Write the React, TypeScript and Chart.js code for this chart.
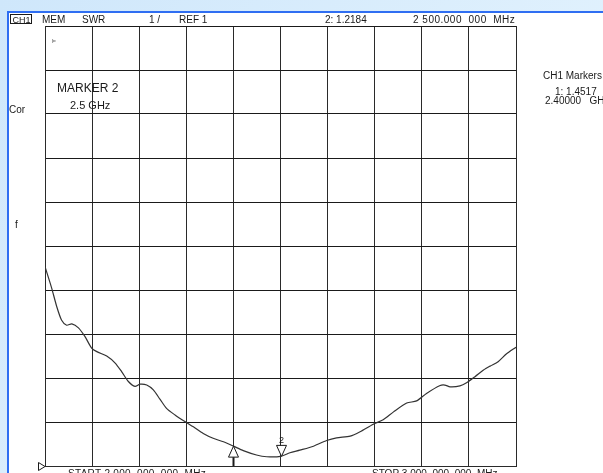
import React, { useEffect, useRef } from 'react';
import { Chart, registerables } from 'chart.js';
Chart.register(...registerables);

// Trace: frequency (MHz) and SWR
const freqMHz = [2000, 2014, 2025, 2035, 2046, 2057, 2071, 2085, 2099, 2110, 2131, 2149, 2163, 2177, 2191, 2202, 2216, 2230, 2244, 2258, 2276, 2297, 2315, 2336, 2357, 2379, 2400, 2421, 2449, 2471, 2500, 2520, 2541, 2570, 2598, 2619, 2648, 2669, 2697, 2718, 2740, 2768, 2789, 2810, 2839, 2849, 2860, 2881, 2895, 2913, 2931, 2945, 2962, 2980, 3000];
const swrValues = [5.53, 5.05, 4.62, 4.32, 4.2, 4.23, 4.14, 3.94, 3.68, 3.6, 3.5, 3.34, 3.14, 2.92, 2.81, 2.86, 2.84, 2.73, 2.52, 2.31, 2.16, 2.01, 1.89, 1.74, 1.63, 1.55, 1.4517, 1.35, 1.25, 1.21, 1.2184, 1.3, 1.36, 1.45, 1.58, 1.64, 1.68, 1.78, 1.95, 2.05, 2.23, 2.43, 2.48, 2.65, 2.83, 2.84, 2.8, 2.82, 2.89, 3.03, 3.18, 3.27, 3.37, 3.55, 3.7];

// Markers
const markerNames = ['1', '2'];
const markerFreqs = [2400, 2500];
const markerSwr = [1.4517, 1.2184];

// Axis settings
const startMHz = 2000;
const stopMHz = 3000;
const refValue = 1;
const scalePerDiv = 1;
const divisions = 10;

// Texts
const headerTexts = ['MEM', 'SWR', '1 /', 'REF 1', '2: 1.2184', '2 500.000  000  MHz'];
const markerPanelTexts = ['CH1 Markers', '1: 1.4517', '2.40000   GHz'];
const markerNoteTexts = ['MARKER 2', '2.5 GHz'];
const footerTexts = ['START 2.000  000  000  MHz', 'STOP 3.000  000  000  MHz'];

const FONT = "'Liberation Sans', Arial, sans-serif";

const decorPlugin = {
  id: 'decor',
  beforeDraw(chart: any) {
    const ctx = chart.ctx;
    const W = chart.width;
    const H = chart.height;
    ctx.save();
    const g = ctx.createLinearGradient(0, 0, W, H);
    g.addColorStop(0, '#cfe7fb');
    g.addColorStop(1, '#e9f6fe');
    ctx.fillStyle = g;
    ctx.fillRect(0, 0, W, H);
    ctx.fillStyle = '#ffffff';
    ctx.fillRect(9, 13, W - 9, H - 13);
    ctx.fillStyle = '#2f6ef2';
    ctx.fillRect(7, 11, W - 7, 2);
    ctx.fillRect(7, 11, 2, H - 11);
    ctx.restore();
  },
  afterDraw(chart: any) {
    const ctx = chart.ctx;
    const xs = chart.scales.x;
    const ys = chart.scales.y;
    const area = chart.chartArea;
    ctx.save();
    ctx.fillStyle = '#1a1a1a';
    ctx.textBaseline = 'alphabetic';
    ctx.textAlign = 'left';

    // header
    ctx.font = `9px ${FONT}`;
    ctx.strokeStyle = '#1a1a1a';
    ctx.lineWidth = 1;
    ctx.strokeRect(10.5, 14.5, 21, 9);
    ctx.fillText('CH1', 12.5, 22.5);
    ctx.font = `10px ${FONT}`;
    const hx = [42, 82, 149, 179, 325, 413];
    headerTexts.forEach((t, i) => {
      ctx.letterSpacing = i === headerTexts.length - 1 ? '0.5px' : '0px';
      ctx.fillText(t, hx[i], 23);
    });
    ctx.letterSpacing = '0px';

    // marker panel (right)
    ctx.fillText(markerPanelTexts[0], 543, 79);
    ctx.fillText(markerPanelTexts[1], 555, 95);
    ctx.fillText(markerPanelTexts[2], 545, 104);

    // left labels
    ctx.fillText('Cor', 9, 113);
    ctx.fillText('f', 15, 228);
    ctx.font = `6px ${FONT}`;
    ctx.fillStyle = '#555';
    ctx.fillText('Þ', 52, 43);
    ctx.fillStyle = '#1a1a1a';

    // marker note
    ctx.font = `12px ${FONT}`;
    ctx.fillText(markerNoteTexts[0], 57, 92);
    ctx.font = `11px ${FONT}`;
    ctx.fillText(markerNoteTexts[1], 70, 109);

    // footer (clipped by page bottom)
    ctx.font = `10px ${FONT}`;
    ctx.letterSpacing = '0.3px';
    ctx.fillText(footerTexts[0], 68, 477);
    ctx.letterSpacing = '0px';
    ctx.fillText(footerTexts[1], 372, 477);

    // reference triangle
    const ry = Math.round(ys.getPixelForValue(refValue)) + 0.5;
    ctx.beginPath();
    ctx.moveTo(38.5, ry - 4);
    ctx.lineTo(45, ry);
    ctx.lineTo(38.5, ry + 4);
    ctx.closePath();
    ctx.stroke();

    // markers
    markerFreqs.forEach((f, i) => {
      const px = Math.round(xs.getPixelForValue(f)) + 0.5;
      const py = ys.getPixelForValue(markerSwr[i]);
      ctx.fillStyle = '#ffffff';
      ctx.strokeStyle = '#1a1a1a';
      ctx.lineWidth = 1;
      if (i === 0) {
        ctx.lineWidth = 2;
        ctx.beginPath();
        ctx.moveTo(px, py + 10);
        ctx.lineTo(px, area.bottom);
        ctx.stroke();
        ctx.lineWidth = 1;
        ctx.beginPath();
        ctx.moveTo(px, py);
        ctx.lineTo(px - 5, py + 11);
        ctx.lineTo(px + 5, py + 11);
        ctx.closePath();
        ctx.fill();
        ctx.stroke();
      } else {
        ctx.beginPath();
        ctx.moveTo(px, py);
        ctx.lineTo(px - 5, py - 11);
        ctx.lineTo(px + 5, py - 11);
        ctx.closePath();
        ctx.fill();
        ctx.stroke();
        ctx.fillStyle = '#1a1a1a';
        ctx.font = `9px ${FONT}`;
        ctx.textAlign = 'center';
        ctx.fillText(markerNames[i], px, py - 13);
        ctx.textAlign = 'left';
      }
    });
    ctx.restore();
  },
};

export default function App() {
  const ref = useRef<HTMLCanvasElement | null>(null);
  useEffect(() => {
    if (!ref.current) return;
    const points = freqMHz.map((f, i) => ({ x: f, y: swrValues[i] }));
    const chart = new Chart(ref.current, {
      type: 'line',
      data: {
        datasets: [
          {
            data: points,
            borderColor: '#333333',
            borderWidth: 1.2,
            pointRadius: 0,
            tension: 0.25,
            fill: false,
          },
        ],
      },
      options: {
        responsive: false,
        animation: false,
        devicePixelRatio: 1,
        layout: { padding: { left: 45, top: 26, right: 87, bottom: 7 } },
        plugins: { legend: { display: false }, tooltip: { enabled: false } },
        scales: {
          x: {
            type: 'linear',
            min: startMHz,
            max: stopMHz,
            ticks: { display: false, stepSize: (stopMHz - startMHz) / divisions },
            grid: { color: '#2a2a2a', lineWidth: 1, drawTicks: false },
            border: { color: '#2a2a2a', width: 1 },
          },
          y: {
            type: 'linear',
            min: refValue,
            max: refValue + scalePerDiv * divisions,
            ticks: { display: false, stepSize: scalePerDiv },
            grid: { color: '#1a1a1a', lineWidth: 1, drawTicks: false },
            border: { color: '#2a2a2a', width: 1 },
          },
        },
      },
      plugins: [decorPlugin],
    });
    return () => chart.destroy();
  }, []);
  return (
    <div style={{ position: 'absolute', left: 0, top: 0, width: 603, height: 473, overflow: 'hidden' }}>
      <canvas ref={ref} width={603} height={473} style={{ display: 'block', width: 603, height: 473 }} />
    </div>
  );
}
